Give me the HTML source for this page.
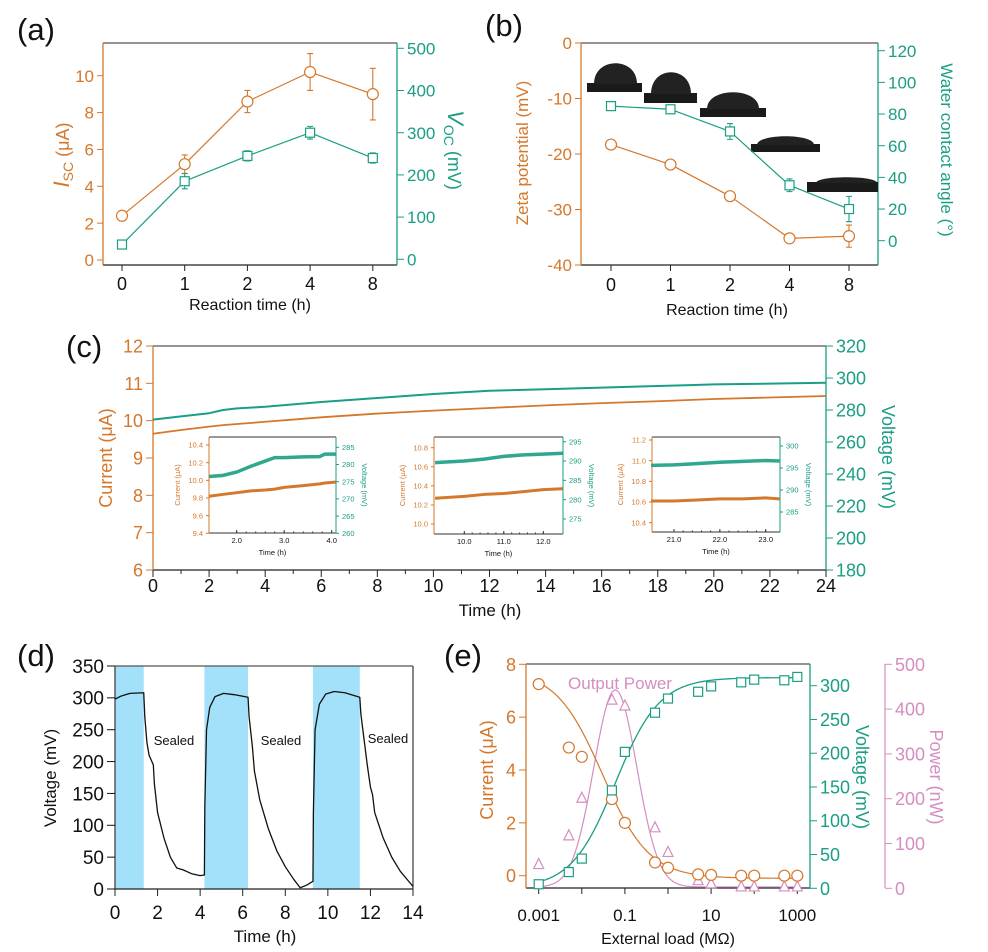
<!DOCTYPE html>
<html><head><meta charset="utf-8"><style>
html,body{margin:0;padding:0;background:#fff}
svg{display:block;font-family:"Liberation Sans",Arial,sans-serif}
</style></head><body>
<svg id="fig" width="988" height="952" viewBox="0 0 988 952" xmlns="http://www.w3.org/2000/svg"></svg>
<script>
// ---------- DATA ----------
// (a)
const aCats=["0","1","2","4","8"];
const aIsc=[2.4,5.2,8.6,10.2,9.0];
const aIscErr=[0.15,0.5,0.6,1.0,1.4];
const aVoc=[35,185,245,300,240];
const aVocErr=[8,18,12,15,12];
const aLeftTicks=[0,2,4,6,8,10];
const aRightTicks=[0,100,200,300,400,500];
// (b)
const bZeta=[-18.3,-21.9,-27.6,-35.2,-34.8];
const bZetaErr=[0.8,0.3,0.5,0.9,2.0];
const bAngle=[85,83,69,35,20];
const bAngleErr=[2,2,5,4,8];
const bLeftTicks=[0,-10,-20,-30,-40];
const bRightTicks=[0,20,40,60,80,100,120];
// (c)
const cTime=[0,1,2,2.5,3,4,5,6,8,10,12,14,16,18,19,20,22,24];
const cVolt=[274,276,278,280,281,282,283.5,285,287.5,290,292,293,294,295,295.5,296,296.5,297];
const cCurr=[9.65,9.75,9.84,9.88,9.91,9.97,10.03,10.09,10.19,10.27,10.34,10.41,10.47,10.52,10.55,10.58,10.62,10.66];
const cXTicks=[0,2,4,6,8,10,12,14,16,18,20,22,24];
const cLeftTicks=[6,7,8,9,10,11,12];
const cRightTicks=[180,200,220,240,260,280,300,320];
const in1Time=[1.42,1.7,2.0,2.3,2.6,2.8,3.0,3.4,3.75,3.85,4.08];
const in1Volt=[276.5,276.8,277.8,279.5,281,282,282,282.2,282.3,283,283];
const in1Curr=[9.82,9.84,9.86,9.88,9.89,9.9,9.92,9.94,9.96,9.97,9.98];
const in2Time=[9.26,10.0,10.5,11.0,11.5,12.0,12.49];
const in2Volt=[289.6,290,290.5,291.2,291.6,291.8,292];
const in2Curr=[10.27,10.29,10.31,10.32,10.34,10.36,10.37];
const in3Time=[20.5,21.0,21.5,22.0,22.5,23.0,23.3];
const in3Volt=[295.6,295.7,296.0,296.3,296.5,296.7,296.6];
const in3Curr=[10.61,10.61,10.62,10.63,10.63,10.64,10.63];
// (d)
const dTime=[0,0.3,0.7,1.35,1.4,1.5,1.6,1.8,1.85,2.0,2.3,2.6,2.9,3.2,3.6,4.0,4.2,4.22,4.3,4.45,4.7,5.1,5.6,6.25,6.3,6.45,6.55,6.8,7.2,7.6,8.0,8.4,8.7,9.0,9.3,9.32,9.4,9.6,9.9,10.3,10.8,11.5,11.55,11.7,11.85,12.0,12.1,12.2,12.6,13.0,13.4,13.8,14];
const dVolt=[298,303,307,308,270,230,210,195,165,120,80,50,33,30,24,21,22,130,250,285,302,307,305,301,270,225,185,140,95,60,35,15,2,6,12,120,250,290,306,310,308,301,275,235,195,160,148,120,80,50,28,12,4];
const dBands=[[0,1.35],[4.2,6.25],[9.3,11.5]];
const dXTicks=[0,2,4,6,8,10,12,14];
const dYTicks=[0,50,100,150,200,250,300,350];
// (e)
const eLoad=[0.001,0.005,0.01,0.05,0.1,0.5,1,5,10,50,100,500,1000];
const eCurr=[7.25,4.85,4.5,2.9,2.0,0.5,0.3,0.05,0.03,0,0,0,0];
const eVolt=[6,24,44,145,202,260,281,291,299,305,309,308,313];
const ePow=[53,117,201,420,407,135,80,17,10,3,3,3,3];
const eXTicks=[0.001,0.1,10,1000];
const eXLabels=["0.001","0.1","10","1000"];
const eLeftTicks=[0,2,4,6,8];
const eVoltTicks=[0,50,100,150,200,250,300];
const ePowTicks=[0,100,200,300,400,500];

// ---------- HELPERS ----------
const NS='http://www.w3.org/2000/svg';
const svg=document.getElementById('fig');
const OR='#d4782c', GR='#1a9e84', PK='#d48ec0', FR='#555';
function el(tag,attrs,parent,text){const e=document.createElementNS(NS,tag);for(const k in attrs)e.setAttribute(k,attrs[k]);if(text!=null)e.textContent=text;(parent||svg).appendChild(e);return e;}
function tag(e,n){
  
  
  return e;
}
function lin(d0,d1,r0,r1){return v=>r0+(v-d0)*(r1-r0)/(d1-d0);}
function group(n){const g=el('g',{});tag(g,n);return g;}
function yAxis(g,x,sc,ticks,side,color,fs,tl,name,labels){
  ticks.forEach((t,i)=>{
    const y=sc(t);
    const d=side==='left'?-tl:tl;
    const tk=el('line',{x1:x,x2:x+d,y1:y,y2:y,stroke:color,'stroke-width':1},g);
    tag(tk,name+'-tick');
    const lb=el('text',{x:side==='left'?x+d-3:x+d+3,y:y+fs*0.36,'font-size':fs,fill:color,'text-anchor':side==='left'?'end':'start'},g,labels?labels[i]:String(t));
    tag(lb,name+'-tick-label');
  });
}
function xAxis(g,y,xs,vals,labels,fs,tl,name,ly){
  vals.forEach((v,i)=>{
    const x=xs(v);
    const tk=el('line',{x1:x,x2:x,y1:y,y2:y+tl,stroke:'#222','stroke-width':1},g);
    tag(tk,name+'-tick');
    const lb=el('text',{x:x,y:ly,'font-size':fs,fill:'#111','text-anchor':'middle'},g,labels[i]);
    tag(lb,name+'-tick-label');
  });
}
function frame(g,x0,y0,x1,y1,lc,rc){
  const t=el('line',{x1:x0,x2:x1,y1:y0,y2:y0,stroke:FR,'stroke-width':1.3},g);tag(t,'frame-top');
  const b=el('line',{x1:x0,x2:x1,y1:y1,y2:y1,stroke:'#222','stroke-width':1.3},g);tag(b,'x-axis-line');
  const l=el('line',{x1:x0,x2:x0,y1:y0,y2:y1,stroke:lc,'stroke-width':1.3},g);tag(l,'left-axis-line');
  const r=el('line',{x1:x1,x2:x1,y1:y0,y2:y1,stroke:rc,'stroke-width':1.3},g);tag(r,'right-axis-line');
}
function rtext(g,x,y,txt,fs,color,rot,name){
  const t=el('text',{x:0,y:0,'font-size':fs,fill:color,'text-anchor':'middle',transform:`translate(${x},${y}) rotate(${rot})`},g);
  t.innerHTML=txt;
  tag(t,name);
  return t;
}
function label(txt,x,y,n){const t=el('text',{x:x,y:y,'font-size':31,fill:'#111'},svg,txt);tag(t,n);}
function poly(g,xs,ys,color,w,n){const p=el('polyline',{points:xs.map((x,i)=>x+','+ys[i]).join(' '),fill:'none',stroke:color,'stroke-width':w,'stroke-linejoin':'round'},g);tag(p,n);return p;}
function errbar(g,x,y1,y2,color,n){const p=el('path',{d:`M${x},${y1}V${y2}M${x-3},${y1}H${x+3}M${x-3},${y2}H${x+3}`,stroke:color,fill:'none','stroke-width':1.1},g);tag(p,n);}
function circ(g,x,y,r,color,n){const c=el('circle',{cx:x,cy:y,r:r,fill:'#fff',stroke:color,'stroke-width':1.2},g);tag(c,n);}
function sq(g,x,y,s,color,n){const c=el('rect',{x:x-s/2,y:y-s/2,width:s,height:s,fill:'#fff',stroke:color,'stroke-width':1.2},g);tag(c,n);}
function tri(g,x,y,s,color,n){const c=el('path',{d:`M${x},${y-s*0.6}L${x+s/2},${y+s*0.4}L${x-s/2},${y+s*0.4}Z`,fill:'#fff',stroke:color,'stroke-width':1.2},g);tag(c,n);}

// ---------- PANEL A ----------
(function(){
  const g=group('panel-a');
  label('(a)',17,40,'panel-a-label');
  const x0=103,x1=397,y0=43,y1=265;
  const xs=i=>122+i*62.7;
  const yl=lin(0,10,260,75.7), yr=lin(0,500,259.3,48.3);
  frame(g,x0,y0,x1,y1,OR,GR);
  yAxis(g,x0,yl,aLeftTicks,'left',OR,17,6,'isc-axis');
  yAxis(g,x1,yr,aRightTicks,'right',GR,17,7,'voc-axis');
  xAxis(g,y1,xs,[0,1,2,3,4],aCats,18,6,'x-axis',290);
  const xt=el('text',{x:250,y:310,'font-size':16,fill:'#111','text-anchor':'middle'},g,'Reaction time (h)');tag(xt,'x-axis-title');
  rtext(g,69,155,'<tspan font-style="italic" font-size="22">I</tspan><tspan font-size="14" dy="4">SC</tspan><tspan dy="-4" font-size="18"> (μA)</tspan>',18,OR,-90,'isc-axis-title');
  rtext(g,448,150,'<tspan font-style="italic" font-size="22">V</tspan><tspan font-size="14" dy="4">OC</tspan><tspan dy="-4" font-size="18"> (mV)</tspan>',18,GR,90,'voc-axis-title');
  poly(g,aIsc.map((v,i)=>xs(i)),aIsc.map(v=>yl(v)),OR,1.2,'isc-line');
  poly(g,aVoc.map((v,i)=>xs(i)),aVoc.map(v=>yr(v)),GR,1.2,'voc-line');
  aIsc.forEach((v,i)=>{errbar(g,xs(i),yl(v-aIscErr[i]),yl(v+aIscErr[i]),OR,'isc-errorbar');circ(g,xs(i),yl(v),5.5,OR,'isc-point');});
  aVoc.forEach((v,i)=>{errbar(g,xs(i),yr(v-aVocErr[i]),yr(v+aVocErr[i]),GR,'voc-errorbar');sq(g,xs(i),yr(v),9,GR,'voc-point');});
})();

// ---------- PANEL B ----------
(function(){
  const g=group('panel-b');
  label('(b)',485,36,'panel-b-label');
  const x0=581,x1=878,y0=43,y1=265;
  const xs=i=>611+i*59.5;
  const yl=lin(0,-40,43,265), yr=lin(0,120,240.7,50.7);
  frame(g,x0,y0,x1,y1,OR,GR);
  yAxis(g,x0,yl,bLeftTicks,'left',OR,17,6,'zeta-axis');
  yAxis(g,x1,yr,bRightTicks,'right',GR,17,7,'angle-axis');
  xAxis(g,y1,xs,[0,1,2,3,4],aCats,18,6,'x-axis',291);
  const xt=el('text',{x:727,y:315,'font-size':16,fill:'#111','text-anchor':'middle'},g,'Reaction time (h)');tag(xt,'x-axis-title');
  rtext(g,528,153,'Zeta potential (mV)',17,OR,-90,'zeta-axis-title');
  rtext(g,941,150,'Water contact angle (°)',17,GR,90,'angle-axis-title');
  // droplets
  const drops=[[587,642,83,92,594,637,63],[644,697,93,103,651,691,72],[700,766,108,117,707,759,92],[751,820,144,152,757,814,136],[807,878,182,192,816,877,177]];
  drops.forEach(d=>{
    const r=el('rect',{x:d[0],y:d[2],width:d[1]-d[0],height:d[3]-d[2],fill:'#1a1a1a'},g);tag(r,'droplet-substrate');
    const h=d[2]-d[6];
    const p=el('path',{d:`M${d[4]},${d[2]+1}C${d[4]},${d[2]-1.33*h} ${d[5]},${d[2]-1.33*h} ${d[5]},${d[2]+1}Z`,fill:'#222'},g);tag(p,'droplet-image');
  });
  poly(g,bZeta.map((v,i)=>xs(i)),bZeta.map(v=>yl(v)),OR,1.2,'zeta-line');
  poly(g,bAngle.map((v,i)=>xs(i)),bAngle.map(v=>yr(v)),GR,1.2,'angle-line');
  bZeta.forEach((v,i)=>{errbar(g,xs(i),yl(v-bZetaErr[i]),yl(v+bZetaErr[i]),OR,'zeta-errorbar');circ(g,xs(i),yl(v),5.5,OR,'zeta-point');});
  bAngle.forEach((v,i)=>{errbar(g,xs(i),yr(v-bAngleErr[i]),yr(v+bAngleErr[i]),GR,'angle-errorbar');sq(g,xs(i),yr(v),9,GR,'angle-point');});
})();

// ---------- PANEL C ----------
(function(){
  const g=group('panel-c');
  label('(c)',66,357,'panel-c-label');
  const x0=153,x1=826,y0=346,y1=570;
  const xs=lin(0,24,x0,x1), yl=lin(6,12,570,346), yr=lin(180,320,570,346);
  frame(g,x0,y0,x1,y1,OR,GR);
  yAxis(g,x0,yl,cLeftTicks,'left',OR,18,7,'current-axis');
  yAxis(g,x1,yr,cRightTicks,'right',GR,18,7,'voltage-axis');
  xAxis(g,y1,xs,cXTicks,cXTicks.map(String),18,7,'time-axis',592);
  for(let t=1;t<24;t+=2){const m=el('line',{x1:xs(t),x2:xs(t),y1:y1,y2:y1+4,stroke:'#222'},g);tag(m,'time-minor-tick');}
  const xt=el('text',{x:490,y:616,'font-size':17,fill:'#111','text-anchor':'middle'},g,'Time (h)');tag(xt,'x-axis-title');
  rtext(g,112,458,'Current (μA)',18,OR,-90,'current-axis-title');
  rtext(g,882,457,'Voltage (mV)',18,GR,90,'voltage-axis-title');
  poly(g,cTime.map(xs),cVolt.map(yr),GR,2,'voltage-trace');
  poly(g,cTime.map(xs),cCurr.map(yl),OR,1.8,'current-trace');
  function inset(n,box,xr,xt,lr,lt,rr,rt,T,V,C,xtk,ltk,rtk){
    const ig=el('g',{},g);tag(ig,n);
    const bg=el('rect',{x:box[0],y:box[1],width:box[2]-box[0],height:box[3]-box[1],fill:'#fff'},ig);tag(bg,'inset-background');
    const ixs=lin(xr[0],xr[1],xt[0],xt[1]);
    const iyl=lin(lr[0],lr[1],lt[0],lt[1]), iyr=lin(rr[0],rr[1],rt[0],rt[1]);
    const fl=(a,b,c,d,col,nm)=>{const l=el('line',{x1:a,y1:b,x2:c,y2:d,stroke:col,'stroke-width':1},ig);tag(l,nm);};
    fl(box[0],box[1],box[2],box[1],'#333','inset-frame-top');
    fl(box[0],box[3],box[2],box[3],'#333','inset-x-axis');
    fl(box[0],box[1],box[0],box[3],OR,'inset-left-axis');
    fl(box[2],box[1],box[2],box[3],GR,'inset-right-axis');
    yAxis(ig,box[0],iyl,ltk,'left',OR,7.5,3,'inset-current-axis',ltk.map(v=>v.toFixed(1)));
    yAxis(ig,box[2],iyr,rtk,'right',GR,7.5,3,'inset-voltage-axis');
    xtk.forEach(v=>{const x=ixs(v);fl(x,box[3],x,box[3]-3,'#333','inset-time-tick');const t=el('text',{x:x,y:box[3]+10,'font-size':7.5,fill:'#111','text-anchor':'middle'},ig,v.toFixed(1));tag(t,'inset-time-tick-label');});
    for(let v=Math.ceil(xr[0]*5)/5;v<xr[1];v+=0.2){const x=ixs(v);fl(x,box[3],x,box[3]-1.5,'#333','inset-time-minor-tick');}
    const tt=el('text',{x:(box[0]+box[2])/2,y:box[3]+22,'font-size':7.5,fill:'#111','text-anchor':'middle'},ig,'Time (h)');tag(tt,'inset-x-title');
    rtext(ig,box[0]-29,(box[1]+box[3])/2,'Current (μA)',7.5,OR,-90,'inset-current-title');
    rtext(ig,box[2]+26,(box[1]+box[3])/2,'Voltage (mV)',7.5,GR,90,'inset-voltage-title');
    const gv=poly(ig,T.map(ixs),V.map(iyr),GR,3.5,'inset-voltage-trace');gv.setAttribute('stroke-opacity','0.9');
    poly(ig,T.map(ixs),C.map(iyl),OR,3,'inset-current-trace');
  }
  inset('inset-1',[209,437,336,533],[2,4],[236.7,331.7],[9.4,10.4],[533.3,445],[260,285],[533.3,447.3],in1Time,in1Volt,in1Curr,[2,3,4],[9.4,9.6,9.8,10.0,10.2,10.4],[260,265,270,275,280,285]);
  inset('inset-2',[434,437,563,534],[10,12],[464.3,543.3],[10.0,10.8],[524,447.7],[275,295],[519,441.7],in2Time,in2Volt,in2Curr,[10,11,12],[10.0,10.2,10.4,10.6,10.8],[275,280,285,290,295]);
  inset('inset-3',[652,437,780,532],[21,23],[674,765.7],[10.4,11.2],[522.7,440],[285,300],[512,446],in3Time,in3Volt,in3Curr,[21,22,23],[10.4,10.6,10.8,11.0,11.2],[285,290,295,300]);
})();

// ---------- PANEL D ----------
(function(){
  const g=group('panel-d');
  label('(d)',17,666,'panel-d-label');
  const x0=115,x1=413,y0=666,y1=889;
  const xs=lin(0,14,x0,x1), ys=lin(0,350,889,666);
  dBands.forEach(b=>{const r=el('rect',{x:xs(b[0]),y:y0,width:xs(b[1])-xs(b[0]),height:y1-y0,fill:'#a3e0f9'},g);tag(r,'unsealed-band');});
  frame(g,x0,y0,x1,y1,'#444','#444');
  yAxis(g,x0,ys,dYTicks,'left','#111',19,8,'voltage-axis');
  xAxis(g,y1,xs,dXTicks,dXTicks.map(String),19,7,'time-axis',919);
  const xt=el('text',{x:265,y:942,'font-size':17,fill:'#111','text-anchor':'middle'},g,'Time (h)');tag(xt,'x-axis-title');
  rtext(g,56,778,'Voltage (mV)',17,'#111',-90,'y-axis-title');
  poly(g,dTime.map(xs),dVolt.map(ys),'#111',1.3,'voltage-curve');
  [[174,745],[281,745],[388,743]].forEach(p=>{const t=el('text',{x:p[0],y:p[1],'font-size':13,fill:'#111','text-anchor':'middle'},g,'Sealed');tag(t,'sealed-annotation');});
})();

// ---------- PANEL E ----------
(function(){
  const g=group('panel-e');
  label('(e)',444,666,'panel-e-label');
  const x0=526,x1=810,y0=664,y1=888;
  const xs=v=>538.7+(Math.log10(v)+3)*43.1;
  const yl=lin(0,8,875.7,664.3), yv=lin(0,300,888.3,685.7), yp=lin(0,500,888.3,664.3);
  frame(g,x0,y0,x1,y1,OR,GR);
  yAxis(g,x0,yl,eLeftTicks,'left',OR,18,7,'current-axis');
  yAxis(g,x1,yv,eVoltTicks,'right',GR,18,7,'voltage-axis');
  const pl=el('line',{x1:885,x2:885,y1:664,y2:888,stroke:PK,'stroke-width':1.2},g);tag(pl,'power-axis-line');
  yAxis(g,885,yp,ePowTicks,'right',PK,18,7,'power-axis');
  xAxis(g,y1,xs,eXTicks,eXLabels,17,6,'load-axis',921);
  [0.01,1,100].forEach(v=>{const m=el('line',{x1:xs(v),x2:xs(v),y1:y1,y2:y1+6,stroke:'#222'},g);tag(m,'load-minor-tick');});
  const xt=el('text',{x:668,y:944,'font-size':16,fill:'#111','text-anchor':'middle'},g,'External load (MΩ)');tag(xt,'x-axis-title');
  rtext(g,493,770,'Current (μA)',18,OR,-90,'current-axis-title');
  rtext(g,856,777,'Voltage (mV)',18,GR,90,'voltage-axis-title');
  rtext(g,930,777,'Power (nW)',18,PK,90,'power-axis-title');
  const op=el('text',{x:620,y:689,'font-size':17,fill:PK,'text-anchor':'middle'},g,'Output Power');tag(op,'output-power-label');
  const R=[];for(let k=-3;k<=3.0001;k+=0.05)R.push(Math.pow(10,k));
  const fI=r=>7.9/(1+Math.pow(r/0.03,0.8))-0.1;
  const fV=r=>{const q=Math.pow(r/0.06,0.85);return 312*q/(1+q);};
  const fP=r=>3+440*Math.exp(-Math.pow(Math.log10(r/0.06),2)/(2*0.5*0.5));
  poly(g,R.map(xs),R.map(r=>yp(fP(r))),PK,1.2,'power-fit');
  poly(g,R.map(xs),R.map(r=>yl(fI(r))),OR,1.2,'current-fit');
  poly(g,R.map(xs),R.map(r=>yv(fV(r))),GR,1.3,'voltage-fit');
  eLoad.forEach((r,i)=>{tri(g,xs(r),yp(ePow[i]),10,PK,'power-point');});
  eLoad.forEach((r,i)=>{circ(g,xs(r),yl(eCurr[i]),5.5,OR,'current-point');});
  eLoad.forEach((r,i)=>{sq(g,xs(r),yv(eVolt[i]),9,GR,'voltage-point');});
})();
</script>
</body></html>
